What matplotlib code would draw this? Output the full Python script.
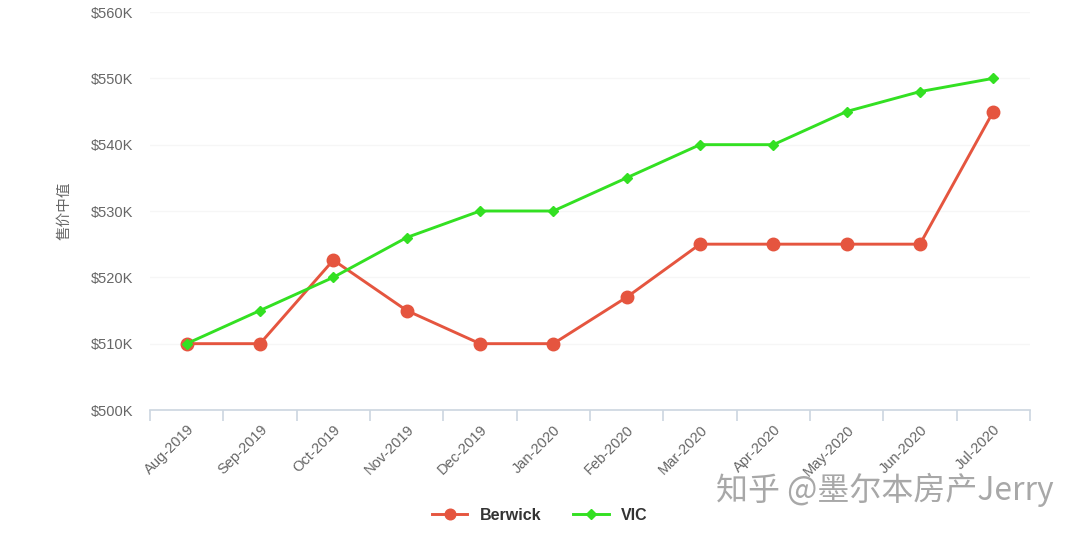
import matplotlib.pyplot as plt
import numpy as np
from matplotlib.ticker import FuncFormatter

plt.rcParams['font.family'] = ['Liberation Sans', 'Noto Sans CJK SC', 'DejaVu Sans']

months = ['Aug-2019', 'Sep-2019', 'Oct-2019', 'Nov-2019', 'Dec-2019', 'Jan-2020',
          'Feb-2020', 'Mar-2020', 'Apr-2020', 'May-2020', 'Jun-2020', 'Jul-2020']
berwick = [510, 510, 522.6, 515, 510, 510, 517, 525, 525, 525, 525, 545]
vic = [510, 515, 520, 526, 530, 530, 535, 540, 540, 545, 548, 550]

red = '#e5553f'
green = '#33e022'

fig = plt.figure(figsize=(10.8, 5.37), dpi=100)
ax = fig.add_axes([150 / 1080, 1 - 410 / 537, 880 / 1080, 398 / 537])

x = np.arange(len(months))
ax.plot(x, berwick, color=red, lw=2.1, marker='o', ms=9, label='Berwick', zorder=3)
ax.plot(x, vic, color=green, lw=2.1, marker='D', ms=5.5, label='VIC', zorder=4)

ax.set_xlim(-0.5, len(months) - 0.5)
ax.set_ylim(500, 560)
ax.set_yticks(np.arange(500, 561, 10))
ax.yaxis.set_major_formatter(FuncFormatter(lambda v, p: f'${v:.0f}K'))
ax.tick_params(axis='y', length=0, pad=12, labelsize=10.5, labelcolor='#666666')

ax.set_xticks(x)
ax.set_xticklabels(months, rotation=45, ha='right', rotation_mode='anchor')
ax.set_xticks(np.arange(-0.5, len(months), 1), minor=True)
ax.tick_params(axis='x', which='major', length=0, pad=9, labelsize=10.5, labelcolor='#666666')
ax.tick_params(axis='x', which='minor', length=8, color='#ccd6e0', width=1.2)

ax.grid(axis='y', color='#f6f6f6', lw=1)
for s in ['left', 'right', 'top']:
    ax.spines[s].set_visible(False)
ax.spines['bottom'].set_color('#ccd6e0')
ax.spines['bottom'].set_linewidth(1.2)

ax.set_ylabel('售价中值', color='#666666', fontsize=10.5, labelpad=14)

fig.legend(loc='lower center', bbox_to_anchor=(0.5, 0.0), ncol=2, frameon=False,
           prop={'weight': 'bold', 'size': 11.5}, labelcolor='#333333',
           handlelength=2.2, columnspacing=2.0, markerscale=0.85)

# watermark
fig.text(0.976, 0.087, '知乎 @墨尔本房产Jerry', ha='right', va='center', fontsize=23,
         color='#a8a8a8', family=['Noto Sans CJK SC', 'DejaVu Sans'])

fig.savefig('out.png', dpi=100)
